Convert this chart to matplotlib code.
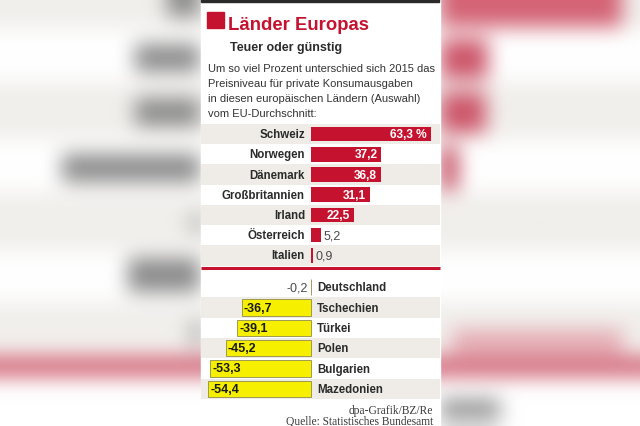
import numpy as np
import matplotlib
matplotlib.use("Agg")
import matplotlib.pyplot as plt
from matplotlib.patches import Rectangle

# Preisniveau private Konsumausgaben 2015, Abweichung vom EU-Durchschnitt in %
upper_countries = ["Schweiz", "Norwegen", "Dänemark", "Großbritannien", "Irland", "Österreich", "Italien"]
upper_values = [63.3, 37.2, 36.8, 31.1, 22.5, 5.2, 0.9]
lower_countries = ["Deutschland", "Tschechien", "Türkei", "Polen", "Bulgarien", "Mazedonien"]
lower_values = [-0.2, -36.7, -39.1, -45.2, -53.3, -54.4]

title = "Länder Europas"
subtitle = "Teuer oder günstig"
intro = ["Um so viel Prozent unterschied sich 2015 das",
         "Preisniveau für private Konsumausgaben",
         "in diesen europäischen Ländern (Auswahl)",
         "vom EU-Durchschnitt:"]
credits = ["dpa-Grafik/BZ/Re", "Quelle: Statistisches Bundesamt"]

W, H = 640, 427
RED = "#c4122f"
YELLOW = "#f6f000"
BEIGE = "#efece7"
TEXT = "#2b2b2b"
SANS = ["Liberation Sans", "DejaVu Sans"]
SERIF = ["Liberation Serif", "DejaVu Serif"]


def fmt(v):
    return f"{v:.1f}".replace(".", ",")


def box_blur(img, r, passes=3):
    out = img.astype(float)
    for _ in range(passes):
        for axis in (0, 1):
            pad = [(0, 0)] * 3
            pad[axis] = (r, r)
            p = np.pad(out, pad, mode="edge")
            c = np.cumsum(p, axis=axis)
            c = np.insert(c, 0, 0, axis=axis)
            n = out.shape[axis]
            out = (np.take(c, np.arange(2 * r + 1, 2 * r + 1 + n), axis=axis)
                   - np.take(c, np.arange(0, n), axis=axis)) / (2 * r + 1)
    return out


def blurred_backdrop():
    # soft, out-of-focus copy of the graphic behind the panel
    img = np.ones((H, W, 3)) * 255
    for y0, y1 in [(0, 30), (83, 140), (193, 252), (303, 354)]:
        img[y0:y1] = (241, 239, 236)
    gray = (140, 140, 140)
    blobs = [
        ((0, 28, 440, 622), (212, 100, 118)),
        ((40, 80, 440, 488), (205, 88, 108)),
        ((93, 134, 440, 486), (205, 88, 108)),
        ((147, 191, 440, 458), (195, 75, 95)),
        ((331, 354, 452, 623), (228, 170, 178)),
        ((357, 378, 0, 640), (210, 105, 122)),
        ((400, 421, 440, 500), (150, 150, 150)),
        ((0, 18, 167, 200), gray),
        ((45, 73, 135, 200), gray),
        ((99, 127, 135, 200), gray),
        ((155, 183, 62, 200), gray),
        ((215, 233, 192, 200), gray),
        ((259, 293, 128, 200), gray),
        ((322, 347, 192, 200), gray),
    ]
    for (y0, y1, x0, x1), col in blobs:
        img[y0:y1, x0:x1] = col
    return np.clip(box_blur(img, 9), 0, 255) / 255


fig = plt.figure(figsize=(6.4, 4.27), dpi=100)
bg = fig.add_axes([0, 0, 1, 1])
bg.set_xlim(0, W)
bg.set_ylim(H, 0)
bg.axis("off")
bg.imshow(blurred_backdrop(), extent=(0, W, H, 0), aspect="auto", zorder=0)

# panel
PX0, PX1 = 201, 440
bg.add_patch(Rectangle((PX0, 0), PX1 - PX0, H, color="white", zorder=1))
bg.add_patch(Rectangle((PX0, 0), 238, 3, color="#2a2a2a", zorder=2))

# header
bg.add_patch(Rectangle((207, 13), 17, 16, color=RED, zorder=2))
bg.text(228, 29.5, title, color=RED, fontsize=13.3, fontweight="bold",
        family=SANS, va="baseline", zorder=3)
bg.text(230, 51.5, subtitle, color=TEXT, fontsize=9, fontweight="bold",
        family=SANS, va="baseline", zorder=3)
for i, line in enumerate(intro):
    bg.text(208, 71.5 + i * 15.3, line, color="#333333", fontsize=8,
            family=SANS, va="baseline", zorder=3)

# red separator line (EU average)
bg.plot([PX0, PX1], [268.5, 268.5], color=RED, lw=2.2, zorder=4,
        solid_capstyle="butt")
bg.text(432, 262, "EU-Durchschnitt", color=RED, fontsize=8.2, family=SANS,
        ha="right", va="center", zorder=5)

# footer
bg.text(433, 411, credits[0], color="#3a3a3a", fontsize=8.3, family=SERIF,
        ha="right", va="center", zorder=3)
bg.text(433, 422.5, credits[1], color="#3a3a3a", fontsize=8.3, family=SERIF,
        ha="right", va="center", zorder=3)

# shared horizontal scale: zero at x=311 px, 1.89 px per percentage point
ZERO_PX, SCALE = 311, 1.89
xlim = ((PX0 - ZERO_PX) / SCALE, (PX1 - ZERO_PX) / SCALE)


def bar_axes(top_px, bottom_px, n):
    ax = fig.add_axes([PX0 / W, 1 - bottom_px / H, (PX1 - PX0) / W,
                       (bottom_px - top_px) / H])
    ax.set_xlim(*xlim)
    ax.set_ylim(n - 0.5, -0.5)
    ax.axis("off")
    ax.patch.set_alpha(0)
    return ax


ax1 = bar_axes(125, 266.5, len(upper_countries))
rows = np.arange(len(upper_countries))
for r in rows[::2]:
    ax1.axhspan(r - 0.5, r + 0.5, color=BEIGE, zorder=0, lw=0)
ax1.barh(rows, upper_values, height=0.72, color=RED, zorder=2)
for r, name, v in zip(rows, upper_countries, upper_values):
    ax1.annotate(name, (0, r), xytext=(-4.4, 0), textcoords="offset points",
                 ha="right", va="center", fontsize=8.3, fontweight="bold",
                 color=TEXT, family=SANS)
    label = fmt(v) + (" %" if r == 0 else "")
    if v >= 10:
        ax1.annotate(label, (v, r), xytext=(-2.6, 0), textcoords="offset points",
                     ha="right", va="center", fontsize=8.6, fontweight="bold",
                     color="white", family=SANS)
    else:
        ax1.annotate(label, (v, r), xytext=(2, 0), textcoords="offset points",
                     ha="left", va="center", fontsize=9, color="#4a4a4a",
                     family=SANS)

ax2 = bar_axes(278, 400, len(lower_countries))
rows = np.arange(len(lower_countries))
for r in rows[1::2]:
    ax2.axhspan(r - 0.5, r + 0.5, color=BEIGE, zorder=0, lw=0)
ax2.barh(rows, lower_values, height=0.8, color=YELLOW, edgecolor="#8f8c4a",
         lw=0.6, zorder=2)
for r, name, v in zip(rows, lower_countries, lower_values):
    ax2.annotate(name, (0, r), xytext=(4.4, 0), textcoords="offset points",
                 ha="left", va="center", fontsize=8.3, fontweight="bold",
                 color=TEXT, family=SANS)
    if v <= -10:
        ax2.annotate(fmt(v), (v, r), xytext=(1.6, 0), textcoords="offset points",
                     ha="left", va="center", fontsize=9, fontweight="bold",
                     color="#1a1a1a", family=SANS)
    else:
        ax2.annotate(fmt(v), (v, r), xytext=(-2.2, 0), textcoords="offset points",
                     ha="right", va="center", fontsize=9, color="#4a4a4a",
                     family=SANS)

fig.savefig("out.png", dpi=100)
